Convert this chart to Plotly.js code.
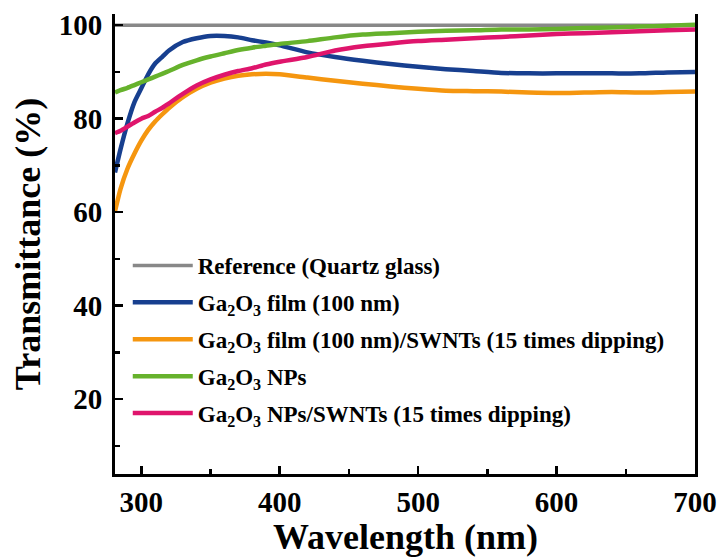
<!DOCTYPE html>
<html>
<head>
<meta charset="utf-8">
<script src="https://cdn.plot.ly/plotly-3.0.1.min.js"></script>
<style>html,body{margin:0;padding:0;background:#fff;}#chart{width:719px;height:558px;}</style>
</head>
<body>
<div id="chart"></div>
<script>
const wavelength = [281,285,290,295,300,305,310,315,320,330,340,350,360,370,380,390,400,420,440,460,480,500,520,540,560,580,600,620,640,660,680,700];
const refQuartz  = [100,100,100,100,100,100,100,100,100,100,100,100,100,100,100,100,100,100,100,100,100,100,100,100,100,100,100,100,100,100,100,100];
const filmGa2O3  = [68.5,73.5,79,83.5,86.5,89.5,91.8,93.2,94.6,96.4,97.2,97.7,97.7,97.4,96.8,96.3,95.7,94.2,93.2,92.4,91.7,91.1,90.6,90.2,89.8,89.7,89.7,89.7,89.7,89.7,89.9,90.0];
const filmSWNT   = [60.2,65,69.3,72.5,75.3,77.6,79.4,80.9,82.3,84.6,86.4,87.7,88.6,89.2,89.5,89.6,89.5,88.8,88.1,87.5,86.9,86.4,86.0,85.9,85.8,85.6,85.5,85.6,85.7,85.6,85.7,85.8];
const npsGa2O3   = [85.6,86.1,86.6,87.2,87.8,88.4,89.0,89.6,90.2,91.5,92.5,93.3,94.0,94.7,95.2,95.6,96.0,96.6,97.4,98.0,98.3,98.6,98.8,98.9,99.1,99.1,99.2,99.4,99.5,99.7,99.9,100.1];
const npsSWNT    = [76.9,77.4,78.3,79.2,80.0,80.6,81.5,82.3,83.3,85.3,87.1,88.4,89.4,90.2,90.8,91.6,92.2,93.2,94.6,95.5,96.1,96.6,96.9,97.2,97.5,97.8,98.1,98.3,98.5,98.7,98.9,99.1];
const seriesNames = [
  'Reference (Quartz glass)',
  'Ga<sub>2</sub>O<sub>3</sub> film (100 nm)',
  'Ga<sub>2</sub>O<sub>3</sub> film (100 nm)/SWNTs (15 times dipping)',
  'Ga<sub>2</sub>O<sub>3</sub> NPs',
  'Ga<sub>2</sub>O<sub>3</sub> NPs/SWNTs (15 times dipping)'
];
const seriesColors = ['#888888','#173f8f','#f5960f','#66b22c','#df156c'];
const seriesData = [refQuartz, filmGa2O3, filmSWNT, npsGa2O3, npsSWNT];
const xTicks = [300,400,500,600,700];
const yTicks = [20,40,60,80,100];
const xTitle = 'Wavelength (nm)';
const yTitle = 'Transmittance (%)';

const FONT = '"Times New Roman", "Liberation Serif", "DejaVu Serif", serif';
const traces = seriesData.map((y, i) => ({
  x: wavelength, y: y, type: 'scatter', mode: 'lines', name: seriesNames[i],
  legendgroup: 'g' + i,
  line: {color: seriesColors[i], width: i === 0 ? 3.5 : 4.5, shape: 'spline', smoothing: 0.6}
}));

const layout = {
  width: 719, height: 558,
  margin: {l: 115, r: 24, t: 14, b: 84},
  paper_bgcolor: '#fff', plot_bgcolor: '#fff',
  font: {family: FONT, color: '#000'},
  showlegend: true,
  legend: {
    x: 0.022, y: 0.50, xanchor: 'left', yanchor: 'top',
    bgcolor: 'rgba(0,0,0,0)', borderwidth: 0,
    font: {family: FONT, size: 23, weight: 'bold', color: '#000'},
    itemwidth: 60, tracegroupgap: 4
  },
  annotations: [{
    text: xTitle, xref: 'paper', yref: 'paper', x: 0.5, y: -0.1845,
    xanchor: 'center', yanchor: 'bottom', showarrow: false,
    font: {family: FONT, size: 36, weight: 'bold', color: '#000'}
  }],
  xaxis: {
    range: [281, 700], tickvals: xTicks, ticktext: xTicks.map(String),
    ticks: 'inside', ticklen: 8, tickwidth: 2.5, tickcolor: '#000',
    minor: {ticks: 'inside', dtick: 50, tick0: 300, ticklen: 5, tickwidth: 2.5, tickcolor: '#000'},
    showline: true, linewidth: 3, linecolor: '#000', mirror: false,
    showgrid: false, zeroline: false,
    tickfont: {family: FONT, size: 29, weight: 'bold'},
    ticklabelstandoff: 0
  },
  yaxis: {
    range: [4, 102.4], tickvals: yTicks, ticktext: yTicks.map(String),
    ticks: 'inside', ticklen: 8, tickwidth: 2.5, tickcolor: '#000',
    minor: {ticks: 'inside', dtick: 10, tick0: 10, ticklen: 5, tickwidth: 2.5, tickcolor: '#000'},
    showline: true, linewidth: 3, linecolor: '#000', mirror: true,
    showgrid: false, zeroline: false,
    tickfont: {family: FONT, size: 29, weight: 'bold'},
    ticklabelstandoff: 4,
    title: {text: yTitle, font: {family: FONT, size: 36, weight: 'bold'}, standoff: 8}
  }
};

Plotly.newPlot('chart', traces, layout, {displayModeBar: false, staticPlot: true});
</script>
</body>
</html>
